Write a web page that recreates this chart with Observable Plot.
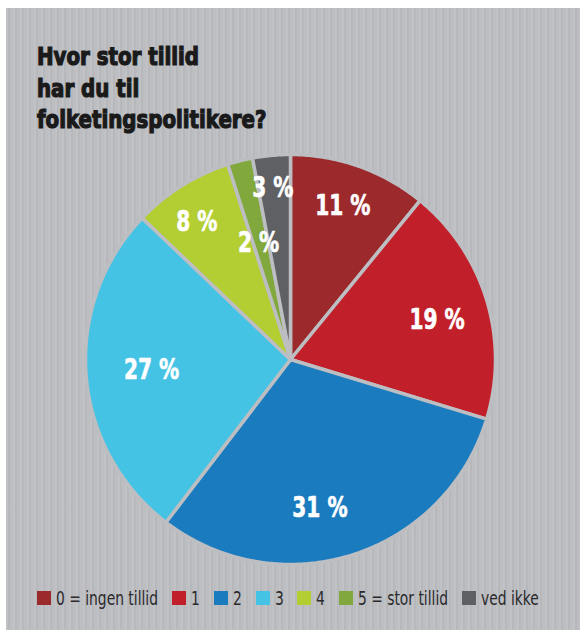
<!DOCTYPE html>
<html>
<head>
<meta charset="utf-8">
<script src="https://cdn.jsdelivr.net/npm/d3@7"></script>
<script src="https://cdn.jsdelivr.net/npm/@observablehq/plot@0.6"></script>
<style>
  html, body { margin: 0; padding: 0; background: #ffffff; }
  #panel {
    position: absolute; left: 6px; top: 8px; width: 574px; height: 622px;
    background-color: #bdbec2;
    background-image: repeating-linear-gradient(90deg, rgba(255,255,255,0.06) 0px, rgba(255,255,255,0.06) 2px, rgba(0,0,0,0.03) 2px, rgba(0,0,0,0.03) 4px, rgba(255,255,255,0) 4px, rgba(255,255,255,0) 7px);
    overflow: hidden;
  }
  #title {
    position: absolute; left: 31px; top: 33px; margin: 0;
    font-family: "DejaVu Sans Condensed", "Liberation Sans Narrow", sans-serif;
    font-weight: bold; font-size: 25px; line-height: 31.5px;
    color: #1a1a1a; -webkit-text-stroke: 1.2px #1a1a1a;
    transform: scaleX(0.88); transform-origin: 0 0; white-space: nowrap;
  }
  #chart { position: absolute; left: 0; top: 140px; }
  #legend {
    position: absolute; left: 31px; top: 578px; display: flex; align-items: center;
    font-family: "DejaVu Sans Condensed", "Liberation Sans Narrow", sans-serif;
    font-size: 20px; color: #2a2a2c; white-space: nowrap;
  }
  #legend .item { display: flex; align-items: center; margin-right: 14px; }
  #legend .sw { width: 14px; height: 14px; margin-right: 5px; display: inline-block; flex: none; }
  #legend .tw { display: inline-block; overflow: visible; }
  #legend .tx { display: inline-block; transform-origin: 0 50%; }
</style>
</head>
<body>
<div id="panel">
  <div id="title">Hvor stor tillid<br>har du til<br>folketingspolitikere?</div>
  <div id="chart"></div>
  <div id="legend"></div>
</div>
<script>
// ---- data ----
const categories = ["0 = ingen tillid", "1", "2", "3", "4", "5 = stor tillid", "ved ikke"];
const values = [11, 19, 31, 27, 8, 2, 3];
const labels = ["11 %", "19 %", "31 %", "27 %", "8 %", "2 %", "3 %"];
const colors = ["#9c2a2d", "#c11f29", "#1a7cbf", "#45c3e4", "#b3ce32", "#80a83c", "#5f6064"];

// ---- layout config (label placement inside each slice) ----
const bg = "#bdbec2";
const labelRadius = [0.79, 0.74, 0.74, 0.68, 0.81, 0.59, 0.84]; // fraction of pie radius
const labelAngleT = [0.48, 0.53, 0.56, 0.5, 0.42, 0.35, 0.45];   // position across slice angle
const condense = 0.8;       // horizontal squeeze to imitate a condensed type face
const legendCondense = 0.77;

const rows = categories.map((c, i) => ({category: c, value: values[i], label: labels[i]}));
const arcs = d3.pie().sort(null).value(d => d.value)(rows);

// polygon points for each slice, computed from the pie angles
const pts = [];
arcs.forEach(a => {
  const key = a.data.category;
  pts.push({key, x: 0, y: 0});
  const n = Math.max(2, Math.ceil((a.endAngle - a.startAngle) / 0.01));
  for (let k = 0; k <= n; k++) {
    const t = a.startAngle + (a.endAngle - a.startAngle) * k / n;
    pts.push({key, x: Math.sin(t), y: Math.cos(t)});
  }
  pts.push({key, x: 0, y: 0});
});

const labelPts = arcs.map((a, i) => {
  const m = a.startAngle + (a.endAngle - a.startAngle) * labelAngleT[i];
  const r = labelRadius[i];
  return {key: a.data.category, label: a.data.label, x: r * Math.sin(m), y: r * Math.cos(m)};
});

const R = 205;
const cx = 284, cy = 211;
const W = 574, H = 440;

const chart = Plot.plot({
  width: W, height: H,
  marginLeft: cx - R, marginRight: W - (cx + R),
  marginTop: cy - R, marginBottom: H - (cy + R),
  x: {domain: [-1, 1], axis: null},
  y: {domain: [-1, 1], axis: null},
  color: {domain: categories, range: colors},
  style: {background: "transparent", overflow: "visible"},
  marks: [
    Plot.line(pts, {x: "x", y: "y", z: "key", fill: "key", stroke: bg, strokeWidth: 3.5, strokeLinejoin: "round", curve: "linear"}),
    Plot.text(labelPts, {x: "x", y: "y", text: "label", fill: "white", stroke: "white", strokeWidth: 0.6,
      fontFamily: "'DejaVu Sans Condensed', 'Liberation Sans Narrow', sans-serif",
      fontWeight: "bold", fontSize: 28, textAnchor: "middle", lineAnchor: "middle"})
  ]
});
document.getElementById("chart").appendChild(chart);

// squeeze label glyphs horizontally around their anchor
chart.querySelectorAll("g[aria-label='text'] text").forEach(el => {
  const t = el.getAttribute("transform");
  if (t && t.indexOf("translate") >= 0) {
    el.setAttribute("transform", t + ` scale(${condense},1)`);
  }
});

// legend built from the same arrays
const legend = document.getElementById("legend");
categories.forEach((c, i) => {
  const item = document.createElement("div");
  item.className = "item";
  const sw = document.createElement("span");
  sw.className = "sw";
  sw.style.background = colors[i];
  const tw = document.createElement("span");
  tw.className = "tw";
  const tx = document.createElement("span");
  tx.className = "tx";
  tx.textContent = c;
  tw.appendChild(tx);
  item.appendChild(sw);
  item.appendChild(tw);
  legend.appendChild(item);
  const w = tx.getBoundingClientRect().width;
  tw.style.width = (w * legendCondense) + "px";
  tx.style.transform = `scaleX(${legendCondense})`;
});
</script>
</body>
</html>
